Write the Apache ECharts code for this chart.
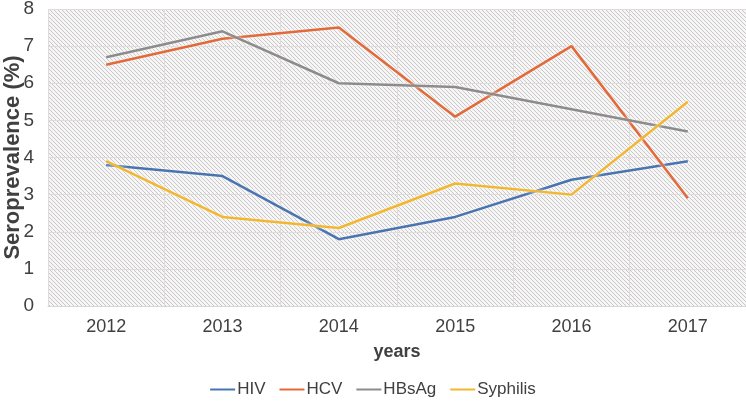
<!DOCTYPE html>
<html>
<head>
<meta charset="utf-8">
<script src="https://cdn.jsdelivr.net/npm/echarts@6/dist/echarts.min.js"></script>
<style>html,body{margin:0;padding:0;background:#fff}#c{width:746px;height:408px}</style>
</head>
<body>
<div id="c"></div>
<script>
var years = ['2012','2013','2014','2015','2016','2017'];
var hiv = [3.8, 3.5, 1.8, 2.4, 3.4, 3.9];
var hcv = [6.5, 7.2, 7.5, 5.1, 7.0, 2.9];
var hbsag = [6.7, 7.4, 6.0, 5.9, 5.3, 4.7];
var syphilis = [3.9, 2.4, 2.1, 3.3, 3.0, 5.5];
var seriesNames = ['HIV','HCV','HBsAg','Syphilis'];
var colors = ['#4a74b0','#e2693a','#8c8c8c','#f2b630'];

var tile = document.createElement('canvas');
tile.width = 4; tile.height = 4;
var ctx = tile.getContext('2d');
ctx.fillStyle = '#f7f6f6';
ctx.fillRect(0,0,4,4);
ctx.fillStyle = '#c8c6c6';
for (var i = 0; i < 4; i++) { ctx.fillRect(i, i, 1, 1); }

var chart = echarts.init(document.getElementById('c'), null, {renderer:'canvas'});
var font = '"Liberation Sans", Arial, sans-serif';
function mk(name, data, color) {
  return {
    name: name, type: 'line', data: data, symbol: 'none',
    lineStyle: {color: color, width: 2.5, shadowColor: 'rgba(255,255,255,0.9)', shadowBlur: 3},
    itemStyle: {color: color}
  };
}
chart.setOption({
  animation: false,
  textStyle: {fontFamily: font},
  grid: {left: 48, right: 0, top: 9, bottom: 102, show: true, borderWidth: 0,
         containLabel: false, outerBoundsMode: 'none',
         backgroundColor: {image: tile, repeat: 'repeat'}},
  legend: {
    bottom: 5, left: 'center', icon: 'rect', itemWidth: 25, itemHeight: 2, itemGap: 14,
    textStyle: {fontSize: 17, color: '#404040', fontFamily: font, padding: [0,0,0,-3]},
    data: seriesNames
  },
  xAxis: {
    type: 'category', data: years, boundaryGap: true,
    name: 'years', nameLocation: 'middle', nameGap: 37, nameMoveOverlap: false,
    nameTextStyle: {fontSize: 18, fontWeight: 'bold', color: '#404040', fontFamily: font},
    axisLine: {lineStyle: {color: '#d6d6d6', width: 1}},
    axisTick: {show: false},
    axisLabel: {fontSize: 18, color: '#404040', margin: 12, fontFamily: font},
    splitLine: {show: true, lineStyle: {color: '#e3dada', width: 1}}
  },
  yAxis: {
    type: 'value', min: 0, max: 8, interval: 1,
    name: 'Seroprevalence (%)', nameLocation: 'middle', nameGap: 24, nameRotate: 90, nameMoveOverlap: false,
    nameTextStyle: {fontSize: 22, fontWeight: 'bold', color: '#404040', fontFamily: font},
    axisLine: {show: false}, axisTick: {show: false},
    axisLabel: {fontSize: 19, color: '#404040', margin: 14, fontFamily: font},
    splitLine: {lineStyle: {color: '#e3dada', width: 1}}
  },
  series: [
    mk(seriesNames[0], hiv, colors[0]),
    mk(seriesNames[1], hcv, colors[1]),
    mk(seriesNames[2], hbsag, colors[2]),
    mk(seriesNames[3], syphilis, colors[3])
  ]
});
</script>
</body>
</html>
